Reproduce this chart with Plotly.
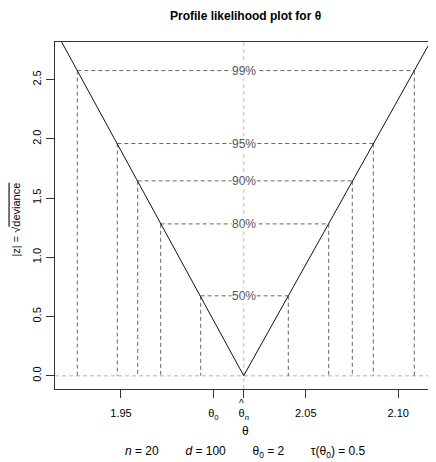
import plotly.graph_objects as go

# ---- data ----
curve_theta = [1.9150, 1.92635, 1.94800, 1.95904, 1.97148, 1.99313, 2.0164,
               2.04053, 2.06239, 2.07516, 2.08653, 2.10871, 2.1200]
curve_z = [2.900, 2.5758, 1.9600, 1.6449, 1.2816, 0.6745, 0.0,
           0.6745, 1.2816, 1.6449, 1.9600, 2.5758, 2.891]

level_labels = ["50%", "80%", "90%", "95%", "99%"]
level_z = [0.6745, 1.2816, 1.6449, 1.9600, 2.5758]
ci_lower = [1.99313, 1.97148, 1.95904, 1.94800, 1.92635]
ci_upper = [2.04053, 2.06239, 2.07516, 2.08653, 2.10871]

theta_hat = 2.0164
theta0 = 2.0

x_tickvals = [1.95, theta0, theta_hat, 2.05, 2.10]
x_ticktext = ["1.95", "θ<sub>0</sub>", "θ<sub><i>n</i></sub>", "2.05", "2.10"]
y_tickvals = [0.0, 0.5, 1.0, 1.5, 2.0, 2.5]
y_ticktext = ["0.0", "0.5", "1.0", "1.5", "2.0", "2.5"]

x_range = [1.91429, 2.12045]
y_range = [-0.112, 2.817]

FONT = "Liberation Sans, Arial, sans-serif"
DARK = "#666666"
LIGHT = "#cccccc"

fig = go.Figure()

# light reference lines (z = 0 and theta_hat)
fig.add_trace(go.Scatter(x=[x_range[0], x_range[1], None, theta_hat, theta_hat],
                         y=[0, 0, None, y_range[0], y_range[1]],
                         mode="lines", line=dict(color=LIGHT, width=1.3, dash="4px,3px"),
                         hoverinfo="skip", showlegend=False))

# confidence level segments
hx, hy = [], []
for lo, hi, z in zip(ci_lower, ci_upper, level_z):
    hx += [lo, hi, None, lo, lo, None, hi, hi, None]
    hy += [z, z, None, z, 0, None, z, 0, None]
fig.add_trace(go.Scatter(x=hx, y=hy, mode="lines",
                         line=dict(color=DARK, width=1, dash="4px,3px"),
                         hoverinfo="skip", showlegend=False))

# profile curve
fig.add_trace(go.Scatter(x=curve_theta, y=curve_z, mode="lines",
                         line=dict(color="#111111", width=1),
                         hoverinfo="skip", showlegend=False))

# level labels
for lab, z in zip(level_labels, level_z):
    fig.add_annotation(x=theta_hat, y=z, text=lab, showarrow=False,
                       font=dict(family=FONT, size=12, color="#555555"),
                       bgcolor="white", borderpad=0, xanchor="center", yanchor="middle")

# hat over theta_n tick label
fig.add_annotation(x=theta_hat, xref="x", yref="paper", y=0, yshift=-14,
                   text="^", showarrow=False,
                   font=dict(family=FONT, size=10, color="black"),
                   xanchor="center", yanchor="middle", xshift=-2)

# plot area bottom is at pixel 389, top at 42 (page has an 8px body margin)
fig.add_annotation(xref="paper", yref="paper", x=0.5, y=1, yshift=26.5,
                   text="<b>Profile likelihood plot for θ</b>", showarrow=False,
                   font=dict(family=FONT, size=12, color="black"),
                   xanchor="center", yanchor="middle")
fig.add_annotation(xref="paper", yref="paper", x=0.5, y=0, yshift=-42,
                   text="θ", showarrow=False,
                   font=dict(family=FONT, size=12, color="black"),
                   xanchor="center", yanchor="middle")
fig.add_annotation(xref="paper", yref="paper", x=0.5, y=0, yshift=-63,
                   text="<i>n</i> = 20        <i>d</i> = 100        θ<sub>0</sub> = 2        τ(θ<sub>0</sub>) = 0.5",
                   showarrow=False,
                   font=dict(family=FONT, size=12, color="black"),
                   xanchor="center", yanchor="middle")
fig.add_annotation(xref="paper", yref="paper", x=0, y=0.5, xshift=-40, yshift=-4,
                   text="|z| = √<span style='text-decoration:overline'>deviance</span>",
                   textangle=-90, showarrow=False,
                   font=dict(family=FONT, size=11, color="black"),
                   xanchor="center", yanchor="middle")

fig.update_xaxes(range=x_range, tickvals=x_tickvals, ticktext=x_ticktext,
                 ticks="outside", ticklen=8, tickcolor="#333333", tickwidth=1,
                 showline=True, linecolor="#333333", linewidth=1, mirror=True,
                 showgrid=False, zeroline=False, ticklabelstandoff=6, automargin=False,
                 tickfont=dict(family=FONT, size=11, color="black"))
fig.update_yaxes(range=y_range, tickvals=y_tickvals, ticktext=y_ticktext,
                 ticks="outside", ticklen=8, tickcolor="#333333", tickwidth=1,
                 showline=True, linecolor="#333333", linewidth=1, mirror=False,
                 showgrid=False, zeroline=False, tickangle=-90, ticklabelstandoff=1,
                 automargin=False,
                 tickfont=dict(family=FONT, size=11, color="black"))

fig.update_layout(width=428, height=454, autosize=False,
                  margin=dict(l=47, r=0, t=34, b=73),
                  plot_bgcolor="white", paper_bgcolor="white",
                  font=dict(family=FONT))

fig.write_html("out.html")
